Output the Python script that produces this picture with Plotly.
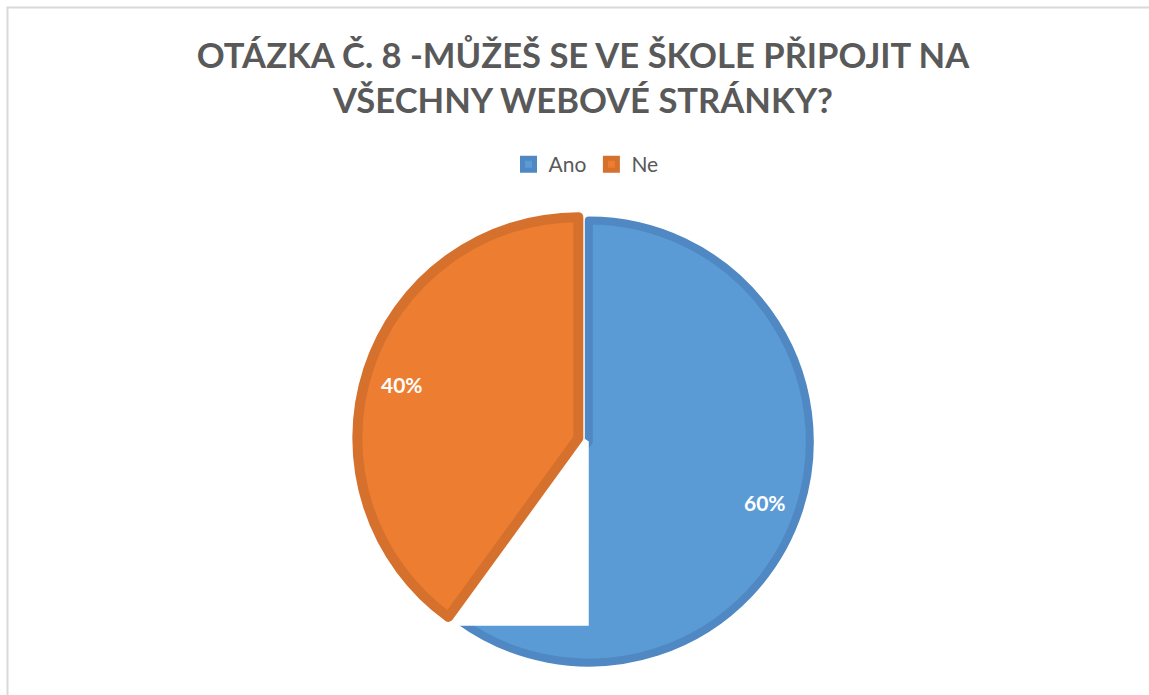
import math
import plotly.graph_objects as go

# ---- data ----
categories = ["Ano", "Ne"]
values = [60, 40]
fill_colors = ["#5b9bd5", "#ed7d31"]
edge_colors = ["#4f88c2", "#d5712d"]
title_lines = ["OTÁZKA Č. 8 -MŮŽEŠ SE VE ŠKOLE PŘIPOJIT NA", "VŠECHNY WEBOVÉ STRÁNKY?"]

# ---- layout geometry (pixels) ----
W, H = 1149, 695
CX, CY = 585.0, 440.3
R = 221.0
PULL_PX = [4.0, 7.0]
STROKE = [8, 10]

pulls = [p / R for p in PULL_PX]
half = R * (1 + max(pulls))
domain_x = [(CX - half) / W, (CX + half) / W]
domain_y = [1 - (CY + half) / H, 1 - (CY - half) / H]

total = sum(values)
pct = [v / total for v in values]

fig = go.Figure()
fig.add_trace(go.Pie(
    labels=categories,
    values=values,
    sort=False,
    direction="clockwise",
    rotation=0,
    pull=pulls,
    marker=dict(colors=fill_colors, line=dict(color=edge_colors, width=STROKE)),
    textinfo="none",
    hoverinfo="label+percent",
    domain=dict(x=domain_x, y=domain_y),
))

def px2paper(x, y):
    return x / W, 1 - y / H

# slice apexes and labels from data
annotations = []
apexes = []
cum = 0.0
for i, p in enumerate(pct):
    bis = math.radians(360 * (cum + p / 2))
    ax = CX + PULL_PX[i] * math.sin(bis)
    ay = CY - PULL_PX[i] * math.cos(bis)
    apexes.append((ax, ay))
    lx = ax + 0.84 * R * math.sin(bis)
    ly = ay - 0.84 * R * math.cos(bis) + 4
    px, py = px2paper(lx, ly)
    annotations.append(dict(
        x=px, y=py, xref="paper", yref="paper", showarrow=False,
        xanchor="center", yanchor="middle",
        text=f"{round(p * 100)}%",
        font=dict(family="Lato", size=21, color="white", weight="bold"),
    ))
    cum += p

# white wedge artefact under the boundary between slices
tb = math.radians(360 * pct[0])
u = (math.sin(tb), -math.cos(tb))
n = (math.cos(tb), math.sin(tb))
A = apexes[0]
D = R + 10
off = STROKE[0] / 2 + 0.5
tip = (A[0] + D * u[0] + off * n[0], A[1] + D * u[1] + off * n[1])
pts = [
    (A[0] + off * n[0], A[1] + off * n[1]),
    tip,
    (A[0], tip[1]),
    (A[0], A[1]),
]
path = "M " + " L ".join("%.4f,%.4f" % px2paper(x, y) for x, y in pts) + " Z"

shapes = [
    dict(type="path", path=path, xref="paper", yref="paper",
         fillcolor="white", line=dict(width=0), layer="above"),
    dict(type="rect", xref="paper", yref="paper",
         x0=7.5 / W, x1=(W + 20) / W, y0=1 - (H + 20) / H, y1=1 - 7.5 / H,
         line=dict(color="#d9d9d9", width=2), fillcolor="rgba(0,0,0,0)", layer="below"),
]

fig.update_layout(
    width=W, height=H,
    margin=dict(l=0, r=0, t=0, b=0),
    paper_bgcolor="white", plot_bgcolor="white",
    title=dict(
        text="<br>".join(title_lines),
        x=583 / W, xanchor="center", xref="container",
        y=1 - 68 / H, yanchor="top", yref="container",
        font=dict(family="Lato", size=34.6, color="#595959", weight="bold"),
    ),
    legend=dict(
        orientation="h", x=586 / W, xanchor="center", y=1 - 144 / H, yanchor="top",
        font=dict(family="Lato", size=21, color="#595959"),
    ),
    showlegend=True,
    annotations=annotations,
    shapes=shapes,
)

fig.write_html(
    "out.html",
    config={"displayModeBar": False},
    post_script="document.body.style.margin='0';document.body.style.overflow='hidden';",
)
